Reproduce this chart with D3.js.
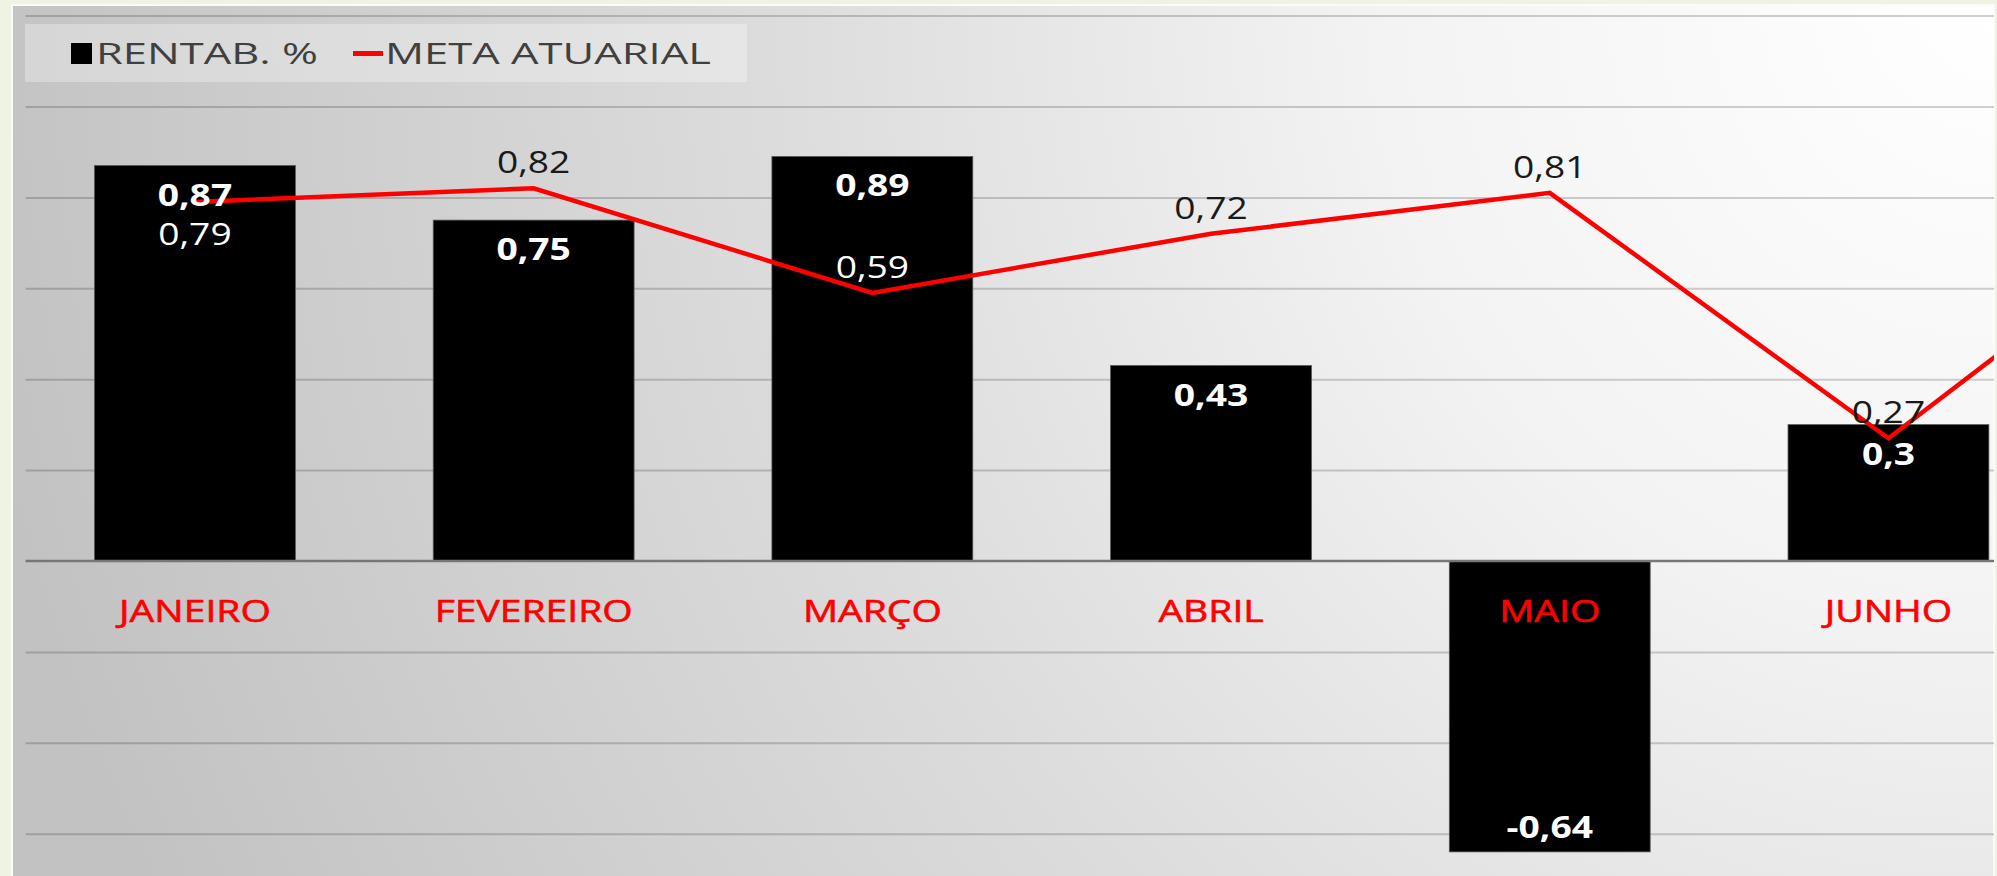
<!DOCTYPE html>
<html>
<head>
<meta charset="utf-8">
<script src="https://cdn.jsdelivr.net/npm/d3@7"></script>
<style>
  html, body { margin: 0; padding: 0; background: #eff3e4; }
  svg { display: block; }
  text { font-family: "Open Sans", "Liberation Sans", sans-serif; }
</style>
</head>
<body>
<svg id="chart" width="1997" height="876"></svg>
<script>
// ---- data ----
const categories = ["JANEIRO", "FEVEREIRO", "MARÇO", "ABRIL", "MAIO", "JUNHO", "JULHO"];
const rentab = [0.87, 0.75, 0.89, 0.43, -0.64, 0.30, null];
const meta = [0.79, 0.82, 0.59, 0.72, 0.81, 0.27, 0.84];
const metaLabelPlacement = ["below", "above", "above", "above", "above", "above", "above"];
const yTicks = [-0.8, -0.6, -0.4, -0.2, 0, 0.2, 0.4, 0.6, 0.8, 1.0, 1.2];
const legendItems = ["RENTAB. %", "META ATUARIAL"];

// ---- layout ----
const W = 1997, H = 876;
const area = { x: 12, y: 5, w: 1982, h: 900 };
const plotLeft = 25.6, step = 338.7;
const svg = d3.select("#chart");
const fmt = v => String(v).replace(".", ",");

const x = d3.scaleBand()
  .domain(categories)
  .range([plotLeft, plotLeft + step * categories.length])
  .paddingInner(0.407)
  .paddingOuter(0.2035);

const y = d3.scaleLinear().domain([-0.8, 1.2]).range([924.6, 15.6]);

const defs = svg.append("defs");
const grad = defs.append("radialGradient")
  .attr("id", "bg").attr("gradientUnits", "userSpaceOnUse")
  .attr("cx", 1994).attr("cy", 5).attr("r", 2050);
[[0, "#ffffff"], [0.3, "#f3f3f3"], [0.6, "#dcdcdc"], [1, "#c2c2c2"]]
  .forEach(([o, c]) => grad.append("stop").attr("offset", o).attr("stop-color", c));

defs.append("clipPath").attr("id", "plotclip")
  .append("rect").attr("x", area.x).attr("y", area.y).attr("width", area.w).attr("height", area.h);

svg.append("rect")
  .attr("x", area.x).attr("y", area.y).attr("width", area.w).attr("height", area.h)
  .attr("fill", "url(#bg)").attr("stroke", "#fbfbfb").attr("stroke-width", 2);

const plot = svg.append("g").attr("clip-path", "url(#plotclip)");

// gridlines
const yAxis = d3.axisLeft(y).tickValues(yTicks.filter(t => t !== 0))
  .tickSize(-(area.x + area.w - plotLeft)).tickFormat("");
plot.append("g").attr("transform", `translate(${plotLeft},0)`).call(yAxis)
  .call(g => g.select(".domain").remove())
  .call(g => g.selectAll(".tick line").attr("stroke", "rgba(0,0,0,0.18)").attr("stroke-width", 2));

// legend
const leg = svg.append("g");
leg.append("rect").attr("x", 25).attr("y", 24).attr("width", 722).attr("height", 58)
  .attr("fill", "rgba(255,255,255,0.3)");
leg.append("rect").attr("x", 71).attr("y", 43).attr("width", 21).attr("height", 21).attr("fill", "#000");
leg.append("rect").attr("x", 353).attr("y", 51).attr("width", 30).attr("height", 5).attr("fill", "#ff0000");
const legSx = 1.5;
[[96, legendItems[0]], [385, legendItems[1]]].forEach(([lx, t]) => {
  leg.append("text").attr("transform", `translate(${lx},64) scale(${legSx},1)`)
    .attr("font-size", 29).attr("fill", "#404040").text(t);
});

// bars
const bars = categories.map((c, i) => ({ c, v: rentab[i] })).filter(d => d.v !== null);
plot.selectAll("rect.bar").data(bars).join("rect").attr("class", "bar")
  .attr("x", d => x(d.c)).attr("width", x.bandwidth())
  .attr("y", d => y(Math.max(0, d.v)))
  .attr("height", d => Math.abs(y(d.v) - y(0)))
  .attr("fill", "#000").attr("stroke", "#555").attr("stroke-width", 0.8);

// zero line
plot.append("line").attr("x1", plotLeft).attr("x2", area.x + area.w)
  .attr("y1", y(0)).attr("y2", y(0)).attr("stroke", "#777").attr("stroke-width", 2.5);

// category labels
const catSx = 1.26;
categories.forEach(c => {
  const cx = x(c) + x.bandwidth() / 2;
  if (cx > W) return;
  svg.append("text").attr("transform", `translate(${cx},${y(0) + 61}) scale(${catSx},1)`)
    .attr("text-anchor", "middle").attr("font-size", 31).attr("fill", "#ff0000")
    .attr("stroke", "#ff0000").attr("stroke-width", 0.6).text(c);
});

// meta line
const pts = categories.map((c, i) => [x(c) + x.bandwidth() / 2, y(meta[i])]);
plot.append("path").attr("d", d3.line()(pts))
  .attr("fill", "none").attr("stroke", "#ff0000").attr("stroke-width", 4.5)
  .attr("stroke-linejoin", "miter");

// bar value labels
const valSx = 1.2;
bars.forEach(d => {
  const cx = x(d.c) + x.bandwidth() / 2;
  const by = d.v >= 0 ? y(d.v) + 40 : y(d.v) - 14;
  svg.append("text").attr("transform", `translate(${cx},${by}) scale(${valSx},1)`)
    .attr("text-anchor", "middle").attr("font-size", 31).attr("font-weight", 700)
    .attr("fill", "#fff").text(fmt(d.v));
});

// meta labels
categories.forEach((c, i) => {
  const cx = x(c) + x.bandwidth() / 2;
  if (cx > W) return;
  const py = y(meta[i]);
  const by = metaLabelPlacement[i] === "above" ? py - 15 : py + 43;
  const mid = by - 11;
  const r = rentab[i];
  const inside = r !== null && r > 0 && mid > y(r) && mid < y(0);
  svg.append("text").attr("transform", `translate(${cx},${by}) scale(${valSx},1)`)
    .attr("text-anchor", "middle").attr("font-size", 31)
    .attr("fill", inside ? "#fff" : "#1a1a1a").text(fmt(meta[i]));
});
</script>
</body>
</html>
